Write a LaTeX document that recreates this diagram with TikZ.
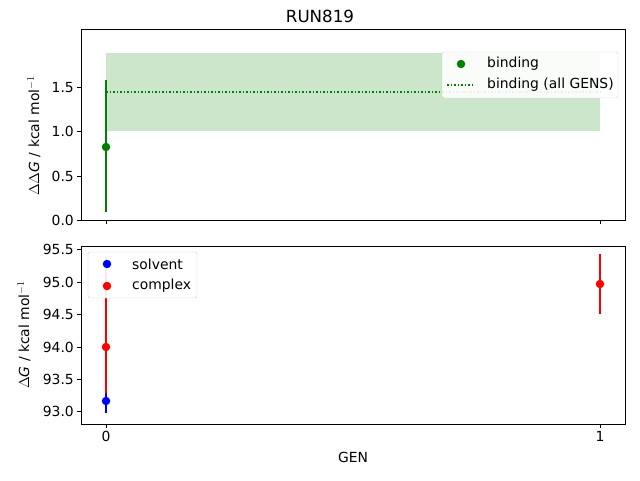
\documentclass[tikz,border=0pt]{standalone}
\usepackage{fontspec}
\setmainfont{DejaVu Sans}
\begin{document}
\begin{tikzpicture}[x=1pt,y=-1pt,
  lab/.style={font=\fontsize{13.9}{16}\selectfont,inner sep=0},
  tk/.style={line width=0.8pt},
  ax/.style={draw,line width=0.8pt},
  legbox/.style={fill=white,fill opacity=0.9,draw=black!20,rounded corners=2pt},
  dot/.style={circle,inner sep=0,minimum size=8.5pt}]
\useasboundingbox (0,0) rectangle (640,480);
\definecolor{mgreen}{RGB}{0,128,0}
% top axes
\fill[mgreen,opacity=0.2] (106,53) rectangle (600,131);
\draw[mgreen,dotted,line width=1.5pt] (106,92) -- (600,92);
\draw[mgreen,line width=1.5pt] (106,212) -- (106,80);
\node[dot,fill=mgreen] (b0) at (106,147) {};
\draw[ax] (81,29) rectangle (625,220);
\foreach \y/\t in {220/0.0,176/0.5,131/1.0,87.5/1.5}{
  \draw[tk] (81,\y) -- (77,\y);
  \node[lab,anchor=east] at (74,\y) {\t};}
\foreach \x in {106,600} \draw[tk] (\x,220) -- (\x,224);
\node[lab,rotate=90] at (34,136) {$\Delta\Delta \mathit{G}$ / kcal mol$^{-1}$};
% legend top
\draw[legbox] (442,52) rectangle (618,98);
\node[dot,fill=mgreen] (l1) at (461,64) {};
\node[lab,anchor=west] at (487,64) {binding};
\draw[mgreen,dotted,line width=1.5pt] (447,85) -- (475,85);
\node[lab,anchor=west] at (487,85) {binding (all GENS)};
% bottom axes
\draw[red,line width=1.5pt] (106,257) -- (106,397);
\draw[blue,line width=1.5pt] (106,393) -- (106,413);
\node[dot,fill=blue] (s0) at (106,401) {};
\node[dot,fill=red] (c0) at (106,347) {};
\draw[red,line width=1.5pt] (600,254) -- (600,314);
\node[dot,fill=red] (c1) at (600,284) {};
\draw[ax] (81,246) rectangle (625,424);
\foreach \y/\t in {249/95.5,282/95.0,314/94.5,347/94.0,379/93.5,411/93.0}{
  \draw[tk] (81,\y) -- (77,\y);
  \node[lab,anchor=east] at (74,\y) {\t};}
\foreach \x/\t in {106/0,600/1}{
  \draw[tk] (\x,424) -- (\x,428);
  \node[lab,anchor=north] at (\x,431) {\t};}
\node[lab,rotate=90] at (24,335) {$\Delta \mathit{G}$ / kcal mol$^{-1}$};
\draw[legbox] (88,252) rectangle (197,298);
\node[dot,fill=blue] (l2) at (107,264) {};
\node[lab,anchor=west] at (132,264) {solvent};
\node[dot,fill=red] (l3) at (107,286) {};
\node[lab,anchor=west] at (132,286) {complex};
\node[lab] at (353,457) {GEN};
\node[lab,font=\fontsize{16.7}{19}\selectfont] at (320,16) {RUN819};
\end{tikzpicture}
\end{document}
